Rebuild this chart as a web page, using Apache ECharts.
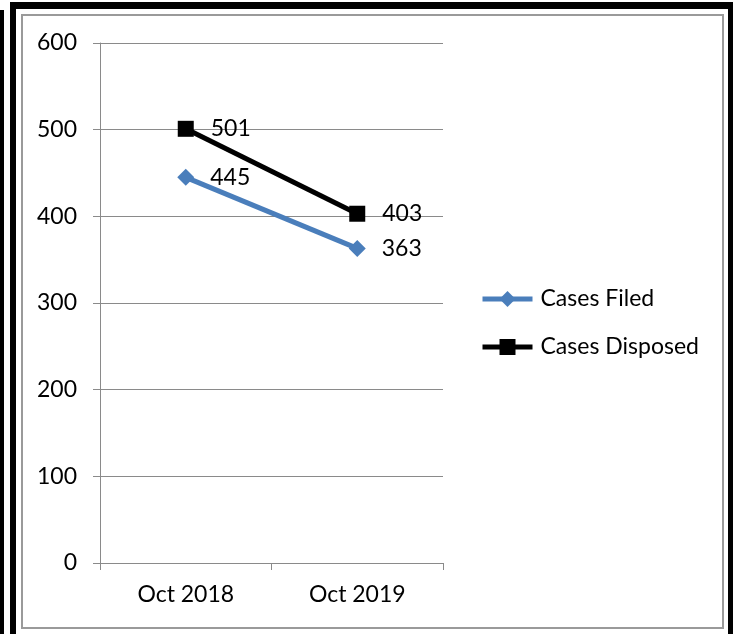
<!DOCTYPE html>
<html>
<head>
<meta charset="utf-8">
<title>Cases Filed vs Cases Disposed</title>
<script src="https://cdn.jsdelivr.net/npm/echarts@6/dist/echarts.min.js"></script>
<style>
  html, body { margin: 0; padding: 0; background: #fff; }
  #chart { width: 733px; height: 634px; }
</style>
</head>
<body>
<div id="chart"></div>
<script>
// data
var categories = ["Oct 2018", "Oct 2019"];
var casesFiled = [445, 363];
var casesDisposed = [501, 403];
var seriesNames = ["Cases Filed", "Cases Disposed"];

var chart = echarts.init(document.getElementById("chart"));
var fontFamily = "Lato, 'Open Sans', sans-serif";
var gridColor = "#8a8a8a";

chart.setOption({
  animation: false,
  backgroundColor: "#fff",
  textStyle: { fontFamily: fontFamily },
  grid: { left: 100, right: 290, top: 43, bottom: 71 },
  legend: {
    orient: "vertical",
    left: 480,
    top: 287,
    padding: 0,
    itemWidth: 50,
    itemHeight: 20,
    itemGap: 24,
    data: seriesNames,
    lineStyle: { width: 5 },
    textStyle: {
      fontSize: 23,
      color: "#000",
      lineHeight: 24,
      padding: [0, 0, 0, 3]
    }
  },
  xAxis: {
    type: "category",
    data: categories,
    boundaryGap: true,
    axisLine: { lineStyle: { color: gridColor, width: 1 } },
    axisTick: { show: true, length: 7, lineStyle: { color: gridColor } },
    axisLabel: { fontSize: 23, color: "#000", margin: 20 }
  },
  yAxis: {
    type: "value",
    min: 0,
    max: 600,
    interval: 100,
    axisLine: { show: true, lineStyle: { color: gridColor, width: 1 } },
    axisTick: { show: true, length: 7, lineStyle: { color: gridColor } },
    axisLabel: { fontSize: 23, color: "#000", margin: 23 },
    splitLine: { lineStyle: { color: gridColor, width: 1 } }
  },
  series: [
    {
      name: seriesNames[0],
      type: "line",
      data: casesFiled,
      color: "#4a7ebb",
      symbol: "diamond",
      symbolSize: 17,
      lineStyle: { width: 5, color: "#4a7ebb" },
      itemStyle: { color: "#4a7ebb" },
      label: {
        show: true,
        position: "right",
        distance: 16,
        fontSize: 23,
        color: "#000"
      }
    },
    {
      name: seriesNames[1],
      type: "line",
      data: casesDisposed,
      color: "#000",
      symbol: "rect",
      symbolSize: 16,
      lineStyle: { width: 5, color: "#000" },
      itemStyle: { color: "#000" },
      label: {
        show: true,
        position: "right",
        distance: 17,
        fontSize: 23,
        color: "#000"
      }
    }
  ],
  // outer frame of the pasted picture
  graphic: [
    { type: "rect", shape: { x: 0, y: 10, width: 4, height: 624 }, style: { fill: "#000" }, silent: true },
    { type: "rect", shape: { x: 10, y: 2, width: 6, height: 632 }, style: { fill: "#000" }, silent: true },
    { type: "rect", shape: { x: 10, y: 2, width: 723, height: 7 }, style: { fill: "#000" }, silent: true },
    { type: "rect", shape: { x: 728, y: 2, width: 5, height: 632 }, style: { fill: "#000" }, silent: true },
    { type: "rect", shape: { x: 22, y: 15, width: 701, height: 613 }, style: { fill: null, stroke: "#9a9a9a", lineWidth: 2 }, silent: true, z: -1 }
  ]
});
window.addEventListener("resize", function () {
  chart.resize();
});
</script>
</body>
</html>
